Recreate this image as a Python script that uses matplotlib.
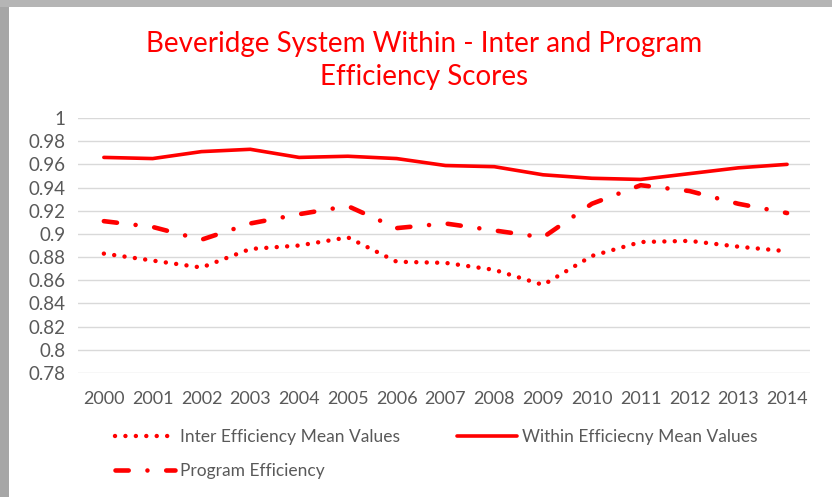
import matplotlib
matplotlib.use("Agg")
import matplotlib.pyplot as plt
from matplotlib.patches import Rectangle

plt.rcParams['font.family'] = ['Lato', 'DejaVu Sans']
plt.rcParams['lines.scale_dashes'] = False

years = ["2000", "2001", "2002", "2003", "2004", "2005", "2006", "2007",
         "2008", "2009", "2010", "2011", "2012", "2013", "2014"]
inter = [0.883, 0.877, 0.871, 0.887, 0.890, 0.897, 0.876, 0.875,
         0.869, 0.856, 0.881, 0.893, 0.894, 0.889, 0.885]
within = [0.966, 0.965, 0.971, 0.973, 0.966, 0.967, 0.965, 0.959,
          0.958, 0.951, 0.948, 0.947, 0.952, 0.957, 0.960]
program = [0.911, 0.906, 0.895, 0.909, 0.917, 0.924, 0.905, 0.909,
           0.903, 0.897, 0.926, 0.942, 0.937, 0.926, 0.918]
yticks = [0.78, 0.80, 0.82, 0.84, 0.86, 0.88, 0.90, 0.92, 0.94, 0.96, 0.98, 1.0]
ytick_labels = ["0.78", "0.8", "0.82", "0.84", "0.86", "0.88", "0.9",
                "0.92", "0.94", "0.96", "0.98", "1"]

W, H = 832, 497
fig = plt.figure(figsize=(W / 100, H / 100), dpi=100)
fig.patch.set_facecolor("white")

# shadow frame
fig.add_artist(Rectangle((0, 0), 9 / W, 1, transform=fig.transFigure,
                         facecolor="#a6a6a6", edgecolor="none", zorder=-5))
fig.add_artist(Rectangle((0, 1 - 7 / H), 1, 7 / H, transform=fig.transFigure,
                         facecolor="#b5b5b5", edgecolor="none", zorder=-5))

ax = fig.add_axes([78 / W, 1 - 373 / H, 732 / W, (373 - 118) / H])
x = list(range(len(years)))
red = "#ff0000"

l_inter, = ax.plot(x, inter, color=red, lw=3.2, dashes=(0.01, 7.5),
                   dash_capstyle="round", label="Inter Efficiency Mean Values")
l_within, = ax.plot(x, within, color=red, lw=2.6, solid_capstyle="round",
                    label="Within Efficiecny Mean Values")
l_prog, = ax.plot(x, program, color=red, lw=3.3,
                  dashes=(9.5, 13.5, 0.01, 13.5), dash_capstyle="round",
                  label="Program Efficiency")

ax.set_xlim(-0.53, 14.47)
ax.set_ylim(0.78, 1.0)
ax.set_yticks(yticks)
ax.set_yticklabels(ytick_labels)
ax.set_xticks(x)
ax.set_xticklabels(years)
ax.grid(axis="y", color="#d9d9d9", lw=1)
ax.set_axisbelow(True)
for s in ax.spines.values():
    s.set_visible(False)
ax.tick_params(axis="both", length=0, colors="#595959")
ax.tick_params(axis="x", pad=13, labelsize=13)
ax.tick_params(axis="y", pad=9, labelsize=13.5)

fig.text(0.51, 1 - 44 / H, "Beveridge System Within - Inter and Program",
         ha="center", va="center", color=red, fontsize=20)
fig.text(0.51, 1 - 77 / H, "Efficiency Scores",
         ha="center", va="center", color=red, fontsize=20)

leg = fig.legend(handles=[l_inter, l_prog, l_within], ncol=2,
                 loc="upper left", bbox_to_anchor=(99 / W, 1 - 413 / H),
                 frameon=False, fontsize=12.5, handlelength=3.45,
                 handletextpad=0.3, columnspacing=3.3, labelspacing=1.05,
                 labelcolor="#595959")

fig.savefig("out.png", dpi=100, facecolor="white")
